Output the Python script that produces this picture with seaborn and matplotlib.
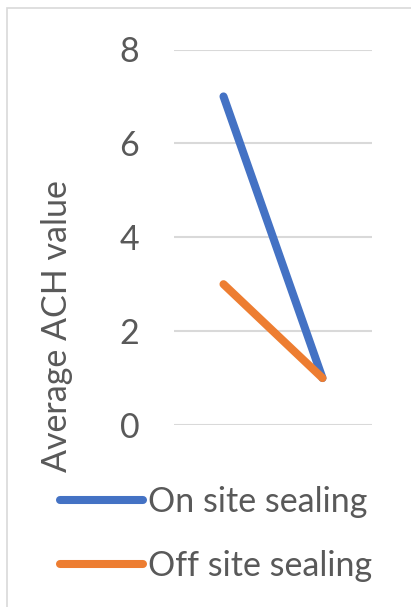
import matplotlib
matplotlib.use("Agg")
import matplotlib.pyplot as plt
import seaborn as sns
import pandas as pd
from matplotlib.patches import Rectangle
from matplotlib.lines import Line2D

categories = ["1", "2"]
on_site = [7, 1]
off_site = [3, 1]
series_names = ["On site sealing", "Off site sealing"]
yticks = [0, 2, 4, 6, 8]

df = pd.DataFrame({
    "x": [0, 1, 0, 1],
    "value": on_site + off_site,
    "series": [series_names[0]] * 2 + [series_names[1]] * 2,
})

sns.set_theme(style="white")
plt.rcParams["font.family"] = ["Lato", "DejaVu Sans"]
text_color = "#595959"
fs = 24.5

fig = plt.figure(figsize=(4.11, 6.07), dpi=100)
ax = fig.add_axes([174/411, 1-425/607, 198/411, 375.5/607])

sns.lineplot(data=df, x="x", y="value", hue="series",
             palette=["#4472C4", "#ED7D31"], linewidth=5.8, ax=ax,
             legend=False, solid_capstyle="round")

ax.set_xlim(-0.5, 1.5)
ax.set_ylim(0, 8)
ax.set_yticks(yticks)
ax.set_yticklabels([str(t) for t in yticks], fontsize=fs, color=text_color)
ax.set_xticks([])
ax.tick_params(axis="y", length=0, pad=25)
ax.grid(axis="y", color="#D9D9D9", linewidth=1.5)
ax.set_axisbelow(True)
for s in ax.spines.values():
    s.set_visible(False)
ax.set_xlabel("")
ax.set_ylabel("Average ACH value", fontsize=fs, color=text_color)
ax.yaxis.set_label_coords(-0.51, 0.264)

handles = [Line2D([], [], color="#4472C4", linewidth=5.8, solid_capstyle="round"),
           Line2D([], [], color="#ED7D31", linewidth=5.8, solid_capstyle="round")]
leg = fig.legend(handles, series_names, loc="upper left",
                 bbox_to_anchor=(60/411, 1-486/607), frameon=False,
                 fontsize=fs, handlelength=2.45, handletextpad=0.15,
                 labelspacing=0.95, borderpad=0, borderaxespad=0)
for t in leg.get_texts():
    t.set_color(text_color)

fig.patches.append(Rectangle((7/411, -0.1), 1.2, 1-8/607+0.1, transform=fig.transFigure,
                             fill=False, edgecolor="#D9D9D9", linewidth=1.2))

fig.savefig("out.png", dpi=100)
